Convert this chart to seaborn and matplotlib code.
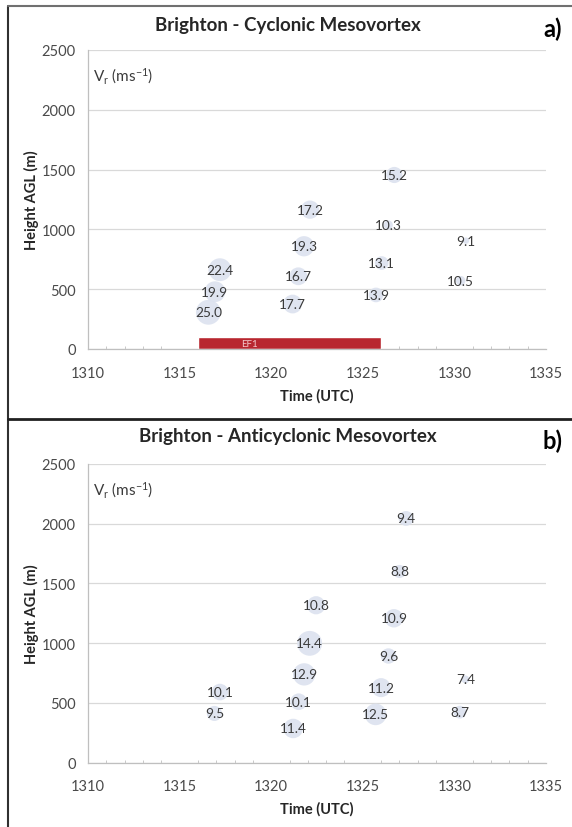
import numpy as np
import pandas as pd
import matplotlib
matplotlib.use('Agg')
import matplotlib.pyplot as plt
from matplotlib.lines import Line2D
from matplotlib.ticker import MultipleLocator
import seaborn as sns

# panel a) cyclonic mesovortex
a_time = [1316.57, 1316.93, 1317.2, 1321.17, 1321.48, 1321.79, 1322.12,
          1325.72, 1326.03, 1326.39, 1326.72, 1330.34, 1330.63]
a_height = [307, 479, 663, 376, 608, 859, 1165, 452, 719, 1037, 1455, 571, 906]
a_vr = [25.0, 19.9, 22.4, 17.7, 16.7, 19.3, 17.2, 13.9, 13.1, 10.3, 15.2, 10.5, 9.1]

# panel b) anticyclonic mesovortex
b_time = [1327.36, 1327.0, 1322.45, 1326.7, 1322.1, 1326.4, 1321.8, 1326.0,
          1330.6, 1317.2, 1321.5, 1316.9, 1325.7, 1330.3, 1321.2]
b_height = [2044, 1600, 1317, 1208, 998, 892, 738, 627, 696, 590, 509, 411, 403, 422, 285]
b_vr = [9.4, 8.8, 10.8, 10.9, 14.4, 9.6, 12.9, 11.2, 7.4, 10.1, 10.1, 9.5, 12.5, 8.7, 11.4]

# EF1 damage period (shown on panel a)
ef1_start = 1316.0
ef1_end = 1326.0
ef1_depth = 100

panels = [
    ('Brighton - Cyclonic Mesovortex', 'a)', a_time, a_height, a_vr),
    ('Brighton - Anticyclonic Mesovortex', 'b)', b_time, b_height, b_vr),
]

sns.set_style('white')
plt.rcParams['font.family'] = ['Lato', 'DejaVu Sans']
plt.rcParams['mathtext.default'] = 'regular'

fig = plt.figure(figsize=(5.72, 8.28), dpi=100)
W, H = 572.0, 828.0

# axes boxes in pixel positions (left, top, right, bottom)
boxes = [(88, 51, 546, 350), (88, 465, 546, 763.5)]
title_y = [25, 437]

bubble_col = '#dce2ef'
text_col = '#3a3a3a'
tick_col = '#4a4a4a'
axis_col = '#bfbfbf'

for i, (title, tag, t, h, vr) in enumerate(panels):
    l, tp, r, b = boxes[i]
    ax = fig.add_axes([l / W, 1 - b / H, (r - l) / W, (b - tp) / H])
    df = pd.DataFrame({'time': t, 'height': h, 'vr': vr})

    if i == 0:
        ax.bar(ef1_start, ef1_depth, width=ef1_end - ef1_start, align='edge',
               color='#b8262f', zorder=2)
        ax.text(ef1_start + 2.8, ef1_depth / 2, 'EF1', color='#f3c9cc',
                fontsize=7, ha='center', va='center', zorder=3)

    sns.scatterplot(data=df, x='time', y='height', size='vr',
                    sizes=(12, 320), size_norm=(min(vr) - 0.5, max(vr)),
                    color=bubble_col, edgecolor='none', alpha=0.9,
                    legend=False, ax=ax, zorder=3)
    for tt, hh, vv in zip(t, h, vr):
        ax.text(tt, hh, f'{vv:.1f}', ha='center', va='center',
                fontsize=9.8, color=text_col, zorder=4)

    ax.set_xlim(1310, 1335)
    ax.set_ylim(0, 2500)
    ax.xaxis.set_major_locator(MultipleLocator(5))
    ax.xaxis.set_minor_locator(MultipleLocator(1))
    ax.yaxis.set_major_locator(MultipleLocator(500))
    ax.grid(axis='y', color='#d9d9d9', lw=0.9)
    ax.set_axisbelow(True)
    for s in ['top', 'right']:
        ax.spines[s].set_visible(False)
    for s in ['left', 'bottom']:
        ax.spines[s].set_color(axis_col)
        ax.spines[s].set_linewidth(0.9)
    ax.tick_params(axis='x', which='major', direction='in', length=4,
                   color=axis_col, labelsize=10.5, labelcolor=tick_col, pad=12)
    ax.tick_params(axis='x', which='minor', direction='in', length=2.5,
                   color=axis_col, bottom=True)
    ax.tick_params(axis='y', length=0, labelsize=10.5, labelcolor=tick_col, pad=9)

    ax.set_xlabel('Time (UTC)', fontsize=10.5, fontweight='bold', labelpad=6)
    ax.set_ylabel('Height AGL (m)', fontsize=10.5, fontweight='bold', labelpad=2)

    ax.text(0.01, 0.915, r'V$_{r}$ (ms$^{-1}$)', transform=ax.transAxes,
            fontsize=11, color=text_col, ha='left', va='center')

    fig.text(288 / W, 1 - title_y[i] / H, title, ha='center', va='center',
             fontsize=13.5, fontweight='bold', color='#262626')
    fig.text(553 / W, 1 - (title_y[i] + 4) / H, tag, ha='center', va='center',
             fontsize=17, fontweight='bold', color='black')

# panel frames
fig.add_artist(Line2D([8 / W, 8 / W], [0, 1 - 7 / H], color='#303030', lw=1.5))
fig.add_artist(Line2D([8 / W, 1], [1 - 7 / H, 1 - 7 / H], color='#707070', lw=1.5))
fig.add_artist(Line2D([8 / W, 1], [1 - 420 / H, 1 - 420 / H], color='#202020', lw=2))

fig.savefig('out.png', dpi=100)
